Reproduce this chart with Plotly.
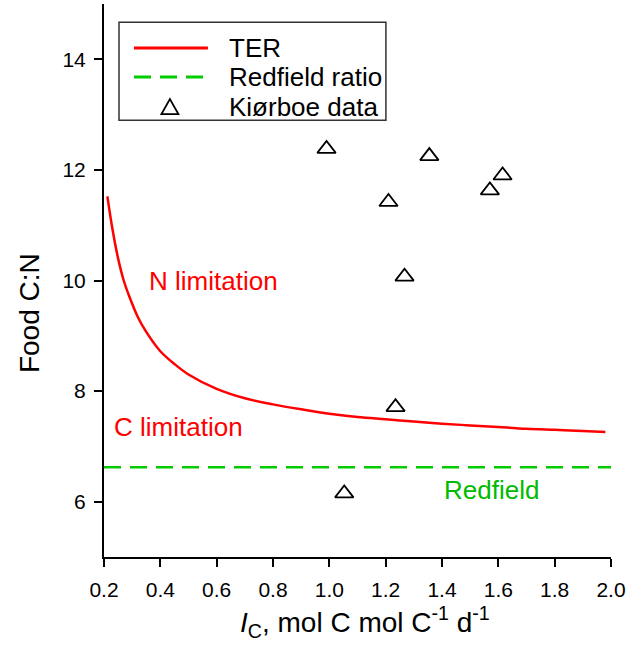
import plotly.graph_objects as go

# TER curve
ter_x = [0.212, 0.23, 0.25, 0.27, 0.29, 0.32, 0.35, 0.40, 0.45, 0.50, 0.60, 0.70, 0.80,
         0.90, 1.00, 1.10, 1.20, 1.30, 1.40, 1.50, 1.60, 1.70, 1.80, 1.90, 1.98]
ter_y = [11.52, 10.93, 10.40, 10.00, 9.71, 9.34, 9.07, 8.72, 8.49, 8.30, 8.04, 7.87, 7.76,
         7.67, 7.59, 7.53, 7.49, 7.45, 7.41, 7.38, 7.35, 7.32, 7.30, 7.28, 7.26]

# Redfield ratio
redfield_x = [0.2, 2.0]
redfield_y = [6.625, 6.625]

# Kiørboe data
kio_x = [0.99, 1.355, 1.615, 1.57, 1.21, 1.267, 1.235, 1.053]
kio_y = [12.38, 12.25, 11.90, 11.63, 11.42, 10.07, 7.71, 6.15]

x_ticks = [0.2, 0.4, 0.6, 0.8, 1.0, 1.2, 1.4, 1.6, 1.8, 2.0]
y_ticks = [6, 8, 10, 12, 14]

legend_labels = ["TER", "Redfield ratio", "Kiørboe data"]
x_title = "<i>I</i><sub>C</sub>, mol C mol C<sup>-1</sup> d<sup>-1</sup>"
y_title = "Food C:N"

FONT = "Liberation Sans, Arial, sans-serif"
RED = "#ff0000"
GREEN = "#00cc00"

fig = go.Figure()
fig.add_trace(go.Scatter(x=ter_x, y=ter_y, mode="lines", name=legend_labels[0],
                         line=dict(color=RED, width=2.5, shape="spline")))
fig.add_trace(go.Scatter(x=redfield_x, y=redfield_y, mode="lines", name=legend_labels[1],
                         line=dict(color=GREEN, width=2.5, dash="17px,9px")))
fig.add_trace(go.Scatter(x=kio_x, y=kio_y, mode="markers", name=legend_labels[2],
                         marker=dict(symbol="triangle-up-open", size=16, color="black",
                                     line=dict(width=1.8, color="black"))))

# in-plot labels
fig.add_annotation(x=0.59, y=10.0, text="N limitation", showarrow=False,
                   font=dict(color=RED, size=26, family=FONT))
fig.add_annotation(x=0.463, y=7.35, text="C limitation", showarrow=False,
                   font=dict(color=RED, size=26, family=FONT))
fig.add_annotation(x=1.574, y=6.21, text="Redfield", showarrow=False,
                   font=dict(color="#00bb00", size=26, family=FONT))

# axis titles
fig.add_annotation(x=-0.148, y=0.441, xref="paper", yref="paper", text=y_title,
                   textangle=-90, showarrow=False, xanchor="center", yanchor="middle",
                   font=dict(size=28, family=FONT, color="black"))
fig.add_annotation(x=0.515, y=-0.1175, xref="paper", yref="paper", text=x_title,
                   showarrow=False, xanchor="center", yanchor="middle",
                   font=dict(size=28, family=FONT, color="black"))

# hand-drawn legend (paper coordinates)
fig.add_shape(type="rect", xref="paper", yref="paper", x0=0.0296, x1=0.556, y0=0.790, y1=0.967,
              line=dict(color="#333333", width=1.5), fillcolor="white", layer="above")
fig.add_shape(type="line", xref="paper", yref="paper", x0=0.0592, x1=0.205, y0=0.9204, y1=0.9204,
              line=dict(color=RED, width=3), layer="above")
fig.add_shape(type="line", xref="paper", yref="paper", x0=0.0592, x1=0.205, y0=0.868, y1=0.868,
              line=dict(color=GREEN, width=3, dash="17px,9px"), layer="above")
fig.add_shape(type="path", xref="paper", yref="paper",
              path="M 0.1133,0.801 L 0.1467,0.801 L 0.130,0.828 Z",
              line=dict(color="black", width=1.8), layer="above")
for lbl, yy in zip(legend_labels, [0.9204, 0.868, 0.8137]):
    fig.add_annotation(x=0.2426, y=yy, xref="paper", yref="paper", text=lbl,
                       showarrow=False, xanchor="left", yanchor="middle",
                       font=dict(size=26, family=FONT, color="black"))

fig.update_layout(
    width=641, height=650,
    margin=dict(l=104, r=30, t=4, b=93),
    paper_bgcolor="white", plot_bgcolor="white",
    font=dict(family=FONT, color="black"),
    showlegend=False,
)
fig.update_xaxes(range=[0.2, 2.0], tickvals=x_ticks, ticktext=[f"{v:.1f}" for v in x_ticks],
                 showline=True, linecolor="black", linewidth=2, ticks="outside",
                 ticklen=8, tickwidth=2, tickcolor="black", showgrid=False, zeroline=False,
                 tickfont=dict(size=21, family=FONT), ticklabelstandoff=5)
fig.update_yaxes(range=[5, 15], tickvals=y_ticks,
                 showline=True, linecolor="black", linewidth=2, ticks="outside",
                 ticklen=8, tickwidth=2, tickcolor="black", showgrid=False, zeroline=False,
                 tickfont=dict(size=21, family=FONT), ticklabelstandoff=4)

fig.write_html("out.html", config={"displayModeBar": False},
               post_script="document.body.style.margin='0';document.body.style.overflow='hidden';")
